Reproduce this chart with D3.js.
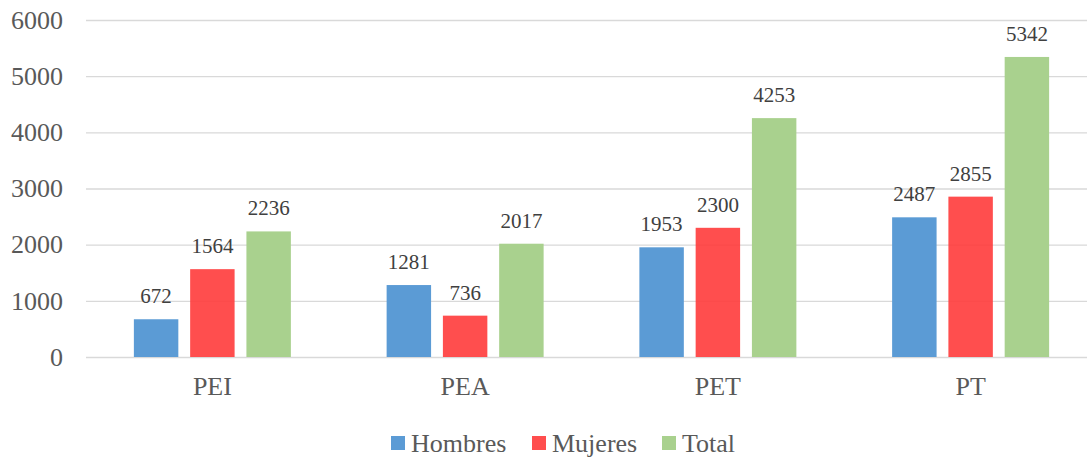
<!DOCTYPE html>
<html>
<head>
<meta charset="utf-8">
<script src="https://cdn.jsdelivr.net/npm/d3@7"></script>
<style>
  body { margin: 0; background: #fff; }
  svg { display: block; }
</style>
</head>
<body>
<svg id="chart" width="1087" height="457"></svg>
<script>
// Population groups and counts by sex
const categories = ["PEI", "PEA", "PET", "PT"];
const seriesNames = ["Hombres", "Mujeres", "Total"];
const hombres = [672, 1281, 1953, 2487];
const mujeres = [1564, 736, 2300, 2855];
const total = [2236, 2017, 4253, 5342];
const yTicks = [0, 1000, 2000, 3000, 4000, 5000, 6000];

const seriesValues = [hombres, mujeres, total];
const colors = ["#5B9BD5", "#FF3B3B", "#A9D18E"];
const opacities = [1, 0.9, 1];
const FONT = "Liberation Serif";

const svg = d3.select("#chart").attr("font-family", FONT);
const plotLeft = 86, plotRight = 1097, plotTop = 20, plotBottom = 357;

const x = d3.scaleBand().domain(categories).range([plotLeft, plotRight]).paddingInner(0).paddingOuter(0);
const xs = d3.scaleBand().domain(seriesNames)
  .range([x.bandwidth() / 2 - 78.5, x.bandwidth() / 2 + 78.5]).paddingInner(0.21);
const y = d3.scaleLinear().domain([0, 6000]).range([plotBottom, plotTop]);

// Gridlines and value axis
const yAxis = d3.axisLeft(y).tickValues(yTicks).tickFormat(d3.format("d"))
  .tickSize(-(plotRight - plotLeft)).tickPadding(23);
const gy = svg.append("g").attr("transform", `translate(${plotLeft},0)`).call(yAxis)
  .attr("font-family", FONT).attr("font-size", 26);
gy.select(".domain").remove();
gy.selectAll(".tick line").attr("stroke", "#d9d9d9").attr("stroke-width", 1.3);
gy.selectAll(".tick text").attr("fill", "#595959");

// Category axis
const xAxis = d3.axisBottom(x).tickSize(0).tickPadding(20);
const gx = svg.append("g").attr("transform", `translate(0,${plotBottom})`).call(xAxis)
  .attr("font-family", FONT).attr("font-size", 26);
gx.select(".domain").remove();
gx.selectAll(".tick text").attr("fill", "#595959");

// Bars with value labels
const groups = svg.append("g").selectAll("g").data(categories).join("g")
  .attr("transform", d => `translate(${x(d)},0)`);

seriesNames.forEach((s, si) => {
  groups.append("rect")
    .attr("x", xs(s))
    .attr("width", xs.bandwidth())
    .attr("y", (d, i) => y(seriesValues[si][i]))
    .attr("height", (d, i) => y(0) - y(seriesValues[si][i]))
    .attr("fill", colors[si])
    .attr("fill-opacity", opacities[si]);
  groups.append("text")
    .attr("x", xs(s) + xs.bandwidth() / 2)
    .attr("y", (d, i) => y(seriesValues[si][i]) - 16)
    .attr("text-anchor", "middle")
    .attr("font-family", FONT)
    .attr("font-size", 21)
    .attr("fill", "#404040")
    .text((d, i) => seriesValues[si][i]);
});

// Legend
const legendItems = [
  { name: "Hombres", x: 391 },
  { name: "Mujeres", x: 532 },
  { name: "Total", x: 662 }
];
const lg = svg.append("g");
legendItems.forEach((it, i) => {
  lg.append("rect").attr("x", it.x).attr("y", 436).attr("width", 14).attr("height", 14)
    .attr("fill", colors[i]).attr("fill-opacity", opacities[i]);
  lg.append("text").attr("x", it.x + 20).attr("y", 451.5)
    .attr("font-family", FONT).attr("font-size", 26)
    .attr("fill", "#595959").text(it.name);
});
</script>
</body>
</html>
